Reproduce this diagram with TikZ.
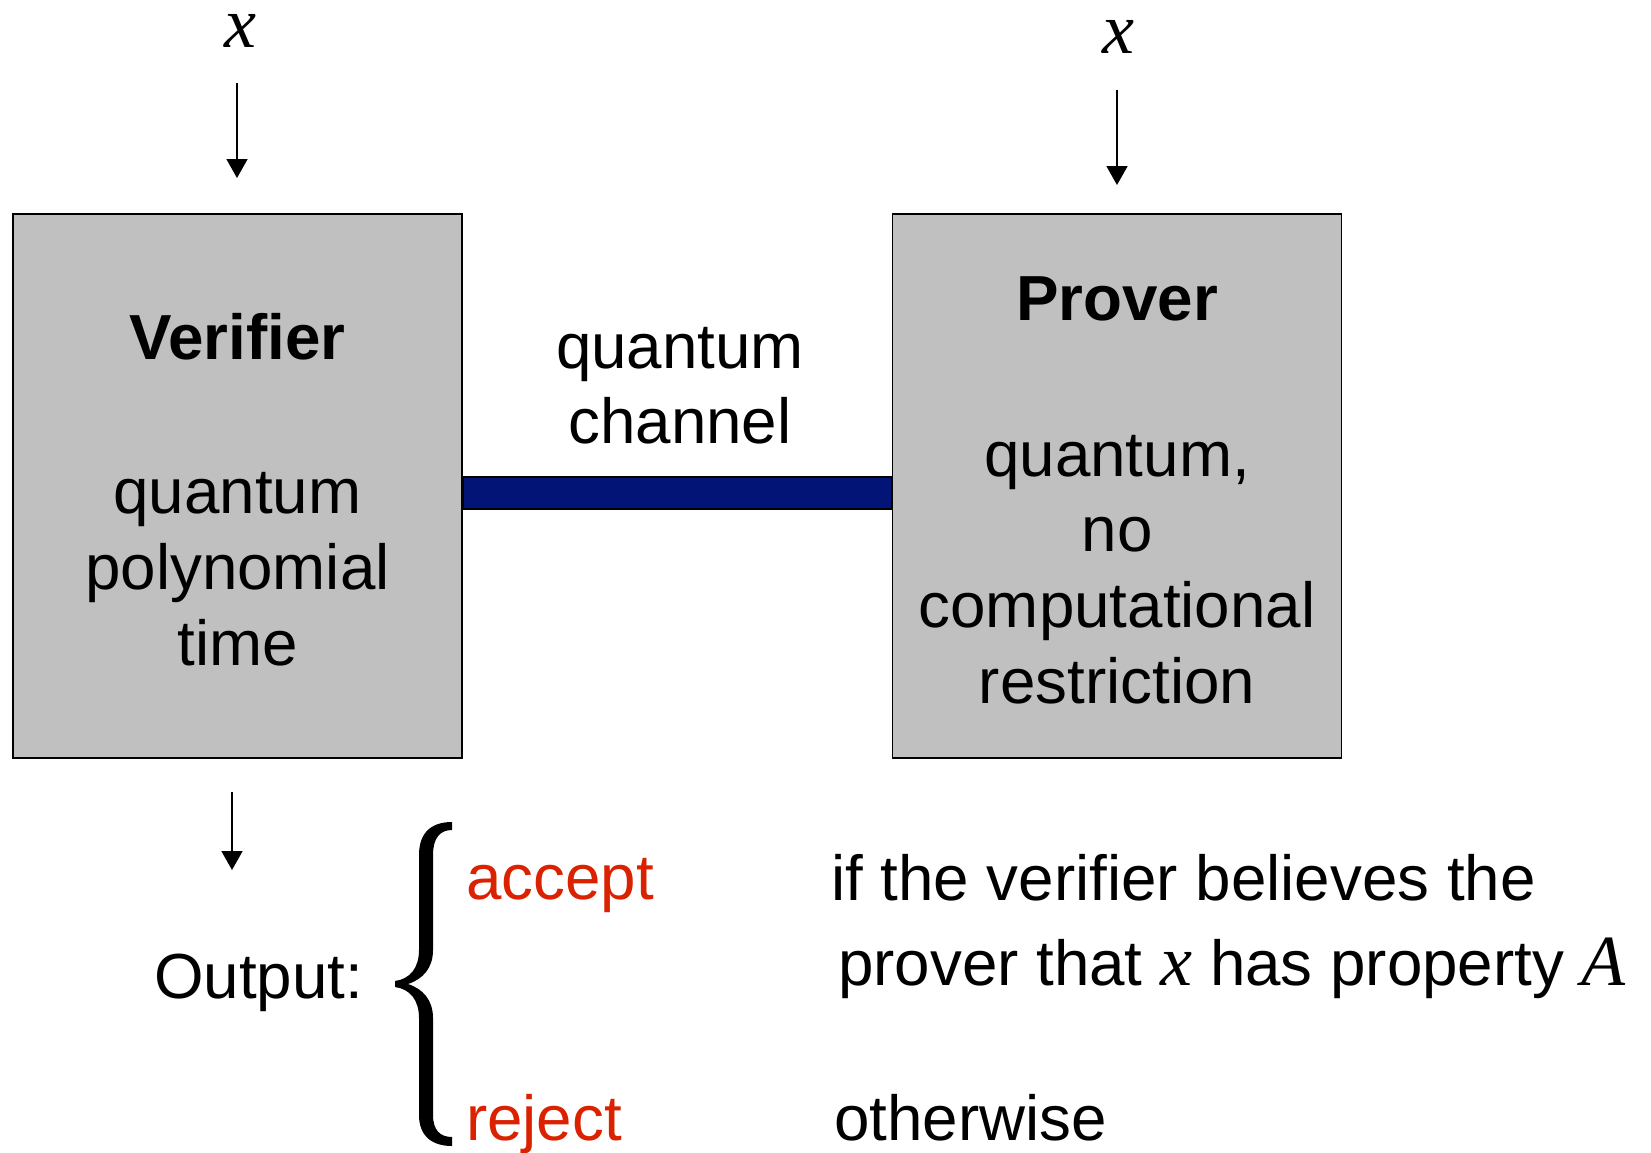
\documentclass[tikz,border=0pt]{standalone}
\usepackage{fontspec}
\setmainfont{Liberation Sans}
\newfontfamily\varfont{Liberation Serif}
\usetikzlibrary{arrows.meta,calc}

\definecolor{boxgray}{RGB}{191,192,191}
\definecolor{channelblue}{RGB}{2,20,118}
\definecolor{verdictred}{RGB}{218,34,0}

\newcommand\mainsize{\fontsize{63.7}{75.8}\selectfont}
\newcommand\varsym[1]{{\varfont\itshape\fontsize{72}{72}\selectfont #1}}

\begin{document}
\begin{tikzpicture}[x=1pt,y=-1pt,
  party/.style={draw=black, line width=1.6pt, fill=boxgray,
    minimum width=449pt, minimum height=544pt, inner sep=0pt},
  lbl/.style={font=\mainsize, inner sep=0pt, anchor=base},
  title/.style={lbl, font=\mainsize\bfseries},
  note/.style={lbl, anchor=base west},
  var/.style={inner sep=0pt, anchor=base, font=\varfont\itshape\fontsize{72}{72}\selectfont},
  feed/.style={line width=1.8pt, -{Triangle[width=21pt,length=19pt]}},
  channel/.style={draw=black, line width=1.6pt, fill=channelblue}
]
\useasboundingbox (0,0) rectangle (1651,1153);

% the two parties
\node[party] (ver) at (237.5,486) {};
\node[party] (pro) at (1117,486) {};

% quantum channel between them
\draw[channel] ($(ver.east)+(0,-9)$) rectangle ($(pro.west)+(0,23)$);
\node[lbl] (c1) at (680,368) {quantum};
\node[lbl] (c2) at (680,443) {channel};

% verifier text
\node[title] (vtitle) at (237.5,359) {Verifier};
\node[lbl] (v1) at (237.5,513) {quantum};
\node[lbl] (v2) at (237.5,589) {polynomial};
\node[lbl] (v3) at (237.5,665) {time};

% prover text
\node[title] (ptitle) at (1117,320) {Prover};
\node[lbl] (p1) at (1117,476) {quantum,};
\node[lbl] (p2) at (1117,551) {no};
\node[lbl] (p3) at (1117,627) {computational};
\node[lbl] (p4) at (1117,703) {restriction};

% common input x
\node[var] (xv) at (240,48) {x};
\node[var] (xp) at (1118,54) {x};
\coordinate (xvs) at (237,83);
\coordinate (xve) at (237,178);
\coordinate (xps) at (1117,90);
\coordinate (xpe) at (1117,185);
\draw[feed] (xvs) -- (xve);
\draw[feed] (xps) -- (xpe);

% output of the verifier
\coordinate (os) at (232,792);
\coordinate (oe) at (232,870);
\draw[feed] (os) -- (oe);
\node[note] (out) at (154,998) {Output:};

% brace
\fill (452,822)
  .. controls (432,822) and (419,832) .. (419,855)
  -- (419,950)
  .. controls (419,968) and (410,979) .. (395,981)
  -- (395,987)
  .. controls (410,989) and (419,1000) .. (419,1018)
  -- (419,1115)
  .. controls (419,1136) and (432,1146) .. (452,1146)
  -- (452,1137)
  .. controls (440,1137) and (433,1130) .. (433,1115)
  -- (433,1018)
  .. controls (433,1000) and (423,989) .. (408,984)
  .. controls (423,979) and (433,968) .. (433,950)
  -- (433,855)
  .. controls (433,838) and (440,830) .. (452,830)
  -- cycle;

\node[note, text=verdictred] (acc) at (466,899) {accept};
\node[note, text=verdictred] (rej) at (466,1140) {reject};
\node[note] (cond1) at (831,900) {if the verifier believes the};
\node[note] (cond2) at (838,985) {prover that \varsym{x} has property \varsym{A}};
\node[note] (cond3) at (834,1140) {otherwise};
\end{tikzpicture}
\end{document}
